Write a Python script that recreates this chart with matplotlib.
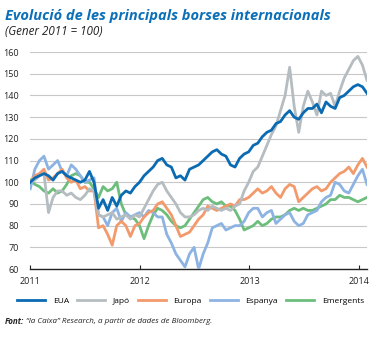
import numpy as np
import pandas as pd
import matplotlib
matplotlib.use("Agg")
import matplotlib.pyplot as plt
import matplotlib.dates as mdates

plt.rcParams['font.family'] = ['Open Sans', 'DejaVu Sans']

# semi-monthly readings, Jan 2011 - end Jan 2014
dates = pd.date_range('2011-01-01', '2014-01-28', periods=75)

eua = [100, 102, 103, 104, 103, 101, 104, 105, 103, 102, 101, 100, 101, 105, 100,
       88, 92, 87, 93, 89, 94, 96, 95, 98, 100, 103, 105, 107, 110, 111,
       108, 107, 102, 103, 101, 106, 107, 108, 110, 112, 114, 115, 113, 112, 108,
       107, 111, 113, 114, 117, 118, 121, 123, 124, 127, 128, 131, 133, 130, 129,
       132, 134, 134, 136, 132, 137, 135, 134, 139, 140, 142, 144, 145, 144, 141]

japo = [100, 101, 103, 104, 86, 93, 96, 96, 94, 95, 93, 92, 94, 97, 96,
        85, 84, 85, 86, 83, 84, 85, 83, 85, 84, 88, 92, 96, 99, 100,
        96, 93, 90, 86, 84, 84, 85, 87, 88, 87, 89, 88, 87, 88, 87,
        89, 90, 96, 100, 105, 107, 112, 117, 122, 126, 133, 140, 153, 135, 123,
        135, 142, 137, 131, 142, 140, 141, 135, 142, 148, 152, 156, 158, 154, 147]

europa = [100, 103, 104, 106, 101, 102, 104, 106, 102, 100, 101, 97, 98, 96, 96,
          79, 80, 76, 71, 80, 82, 80, 75, 80, 81, 84, 86, 87, 90, 91,
          88, 85, 80, 75, 76, 77, 80, 83, 85, 89, 88, 87, 88, 89, 90,
          89, 92, 92, 93, 95, 97, 95, 96, 98, 95, 93, 97, 99, 98, 91,
          93, 95, 97, 98, 96, 97, 100, 102, 104, 105, 107, 104, 108, 111, 107]

espanya = [97, 106, 110, 112, 106, 108, 110, 105, 103, 108, 106, 103, 100, 101, 102,
           85, 84, 80, 86, 88, 82, 86, 84, 85, 86, 84, 87, 86, 84, 84,
           76, 72, 67, 64, 61, 67, 70, 60, 67, 72, 79, 80, 81, 78, 79,
           80, 80, 82, 86, 88, 88, 84, 86, 87, 81, 83, 85, 86, 82, 80,
           81, 85, 86, 87, 91, 93, 94, 100, 99, 96, 95, 99, 103, 106, 99]

emergents = [101, 99, 98, 96, 95, 97, 95, 96, 99, 103, 104, 103, 100, 100, 97,
             93, 98, 96, 97, 100, 90, 85, 84, 83, 80, 74, 80, 85, 88, 87,
             85, 82, 80, 79, 80, 83, 86, 89, 92, 93, 91, 90, 91, 89, 89,
             87, 83, 78, 79, 80, 82, 80, 81, 83, 84, 84, 85, 87, 88, 87,
             88, 87, 87, 88, 89, 90, 92, 92, 94, 93, 93, 92, 91, 92, 93]

series = [
    ('EUA', eua, '#0a6ab2', 6),
    ('Japó', japo, '#b5bdc1', 5),
    ('Europa', europa, '#f39a6c', 4),
    ('Espanya', espanya, '#8db3e2', 3),
    ('Emergents', emergents, '#6dbe7c', 2),
]

fig = plt.figure(figsize=(3.77, 3.38), dpi=100)
ax = fig.add_axes([0.0804, 0.204, 0.893, 0.642])

for name, vals, col, z in series:
    ax.plot(dates, vals, color=col, lw=2.0, label=name, zorder=z,
            solid_joinstyle='round')

ax.set_ylim(60, 160)
ax.set_yticks(np.arange(60, 161, 10))
ax.set_xlim(pd.Timestamp('2011-01-01'), pd.Timestamp('2014-01-28'))
ax.set_xticks([pd.Timestamp(f'{y}-01-01') for y in range(2011, 2015)])
ax.xaxis.set_major_formatter(mdates.DateFormatter('%Y'))

ax.grid(axis='y', color='#c8c8c8', lw=0.8, zorder=0)
for s in ['top', 'right', 'left']:
    ax.spines[s].set_visible(False)
ax.spines['bottom'].set_color('#222222')
ax.spines['bottom'].set_linewidth(1.0)
ax.tick_params(axis='y', length=0, labelsize=6.5, pad=8, colors='#222222')
ax.tick_params(axis='x', direction='in', length=3, labelsize=6.5, pad=6,
               colors='#222222')
ax.set_axisbelow(True)

fig.text(0.013, 0.953, 'Evolució de les principals borses internacionals',
         color='#0b70b8', fontsize=10.5, fontweight='bold', fontstyle='italic',
         va='center')
fig.text(0.013, 0.908, '(Gener 2011 = 100)', color='#222222', fontsize=8.4,
         fontstyle='italic', va='center')

fig.legend(loc='center', bbox_to_anchor=(0.505, 0.108), ncol=5, frameon=False,
           fontsize=6, handlelength=3.4, columnspacing=0.95, handletextpad=0.9)

fig.text(0.013, 0.05, 'Font:', fontsize=5.8, fontweight='bold',
         fontstyle='italic', color='#222222', va='center')
fig.text(0.068, 0.05, '“la Caixa” Research, a partir de dades de Bloomberg.',
         fontsize=5.8, fontstyle='italic', color='#222222', va='center')

fig.savefig('out.png', dpi=100)
